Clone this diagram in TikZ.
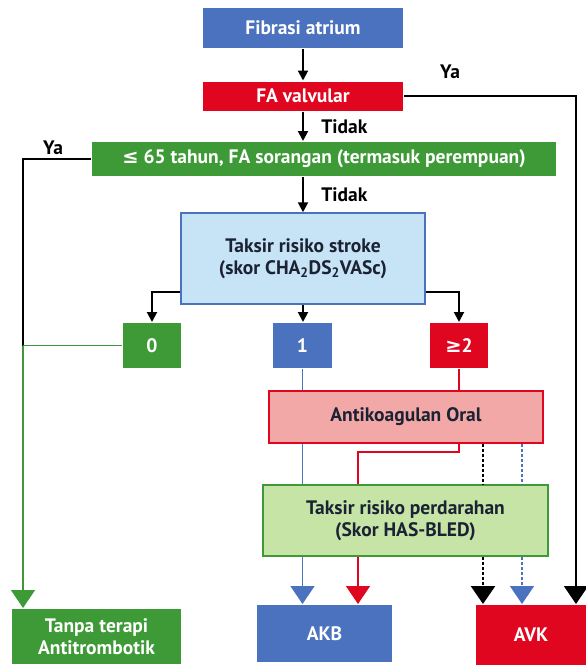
\documentclass[tikz,border=0pt]{standalone}
\usepackage{fontspec}
\setmainfont{PT Sans}
\newfontfamily\symfont{DejaVu Sans}
\usetikzlibrary{arrows.meta}

\definecolor{fablue}{HTML}{4A72BF}
\definecolor{fared}{HTML}{E1061F}
\definecolor{fagreen}{HTML}{3D9A36}
\definecolor{lightblue}{HTML}{C7E3F6}
\definecolor{lightred}{HTML}{F3A8A8}
\definecolor{lightgreen}{HTML}{C6E4A6}
\definecolor{darktext}{HTML}{1B2233}

\begin{document}
\begin{tikzpicture}[x=1pt, y=-1pt, line width=2pt,
  font=\fontsize{19.5}{22}\selectfont\bfseries,
  fullbox/.style={fill=#1, text=white, inner sep=0pt, align=center},
  palebox/.style={fill=light#1, draw=fa#1, line width=1.5pt, text=darktext, inner sep=0pt, align=center},
  smallarr/.style={-{Triangle[width=10pt,length=10pt]}},
  bigarr/.style={-{Triangle[width=24pt,length=18pt]}},
  answer/.style={text=black}]

\useasboundingbox (0,0) rectangle (586,665);

%%%%%%%%%%%% Pertanyaan awal
\node[fullbox=fablue, minimum width=200pt, minimum height=40pt] (fib) at (303,28) {Fibrasi atrium};
\node[fullbox=fared, minimum width=200pt, minimum height=29pt] (val) at (303,96) {FA valvular};
\node[fullbox=fagreen, minimum width=464pt, minimum height=34pt] (age) at (324,159)
  {{\symfont ≤} 65 tahun, FA sorangan (termasuk perempuan)};
\node[answer] (ya1) at (450,72) {Ya};
\node[answer] (ya2) at (53,148) {Ya};

%%%%%%%%%%%% Skor stroke
\node[palebox=blue, minimum width=244pt, minimum height=91pt] (ts) at (303,258.5)
  {Taksir risiko stroke\\(skor CHA\textsubscript{2}DS\textsubscript{2}VASc)};
\node[fullbox=fagreen, minimum width=58pt, minimum height=45pt] (b0) at (152,345.5) {0};
\node[fullbox=fablue, minimum width=59pt, minimum height=45pt] (b1) at (302.5,345.5) {1};
\node[fullbox=fared, minimum width=58pt, minimum height=45pt] (b2) at (459,345.5) {{\symfont ≥}2};

%%%%%%%%%%%% Terapi
\node[palebox=red, minimum width=274pt, minimum height=52pt] (ako) at (406,417) {Antikoagulan Oral};
\node[palebox=green, minimum width=285pt, minimum height=71pt] (hb) at (405.5,520.5)
  {Taksir risiko perdarahan\\(Skor HAS-BLED)};
\node[fullbox=fagreen, minimum width=169pt, minimum height=55pt] (tanpa) at (96.5,636.5)
  {Tanpa terapi\\Antitrombotik};
\node[fullbox=fablue, minimum width=135pt, minimum height=57pt] (akb) at (324.5,633.5) {AKB};
\node[fullbox=fared, minimum width=110pt, minimum height=60pt] (avk) at (531,635) {AVK};

\coordinate (jn) at (23,345.5);
\coordinate (rk) at (358,470);
\coordinate (dk) at (483,470);
\coordinate (bk) at (522,470);

%%%%%%%%%%%% Panah hitam
\draw[smallarr] (fib.south) -- (val.north);
\draw[smallarr] (val.south) -- node[answer, right=14pt] {Tidak} (val.south |- age.north);
\draw[smallarr] (ts.north |- age.south) -- node[answer, right=14pt] {Tidak} (ts.north);
\draw[bigarr] (val.east) -| ([xshift=-11pt]avk.north east);
\draw (age.west) -| (jn);
\draw[smallarr] ([yshift=13pt]ts.south west) -| (b0.north);
\draw[smallarr] (ts.south) -- (ts.south |- b1.north);
\draw[smallarr] ([yshift=13pt]ts.south east) -| (b2.north);

%%%%%%%%%%%% Jalur skor 0
\draw[fagreen, line width=1.5pt] (b0.west) -- (jn);
\draw[fagreen, line width=1.5pt, bigarr] (jn) -- (jn |- tanpa.north);

%%%%%%%%%%%% Jalur skor 1 dan >=2
\draw[fablue, line width=1.5pt] (b1.south) -- (b1.south |- ako.north);
\draw[fablue, line width=1.5pt] (b1.south |- ako.south) -- (b1.south |- hb.north);
\draw[fablue, line width=1.5pt, bigarr] (b1.south |- hb.south) -- (b1.south |- akb.north);
\draw[fared, line width=1.5pt] (b2.south) -- (b2.south |- ako.north);
\draw[fared, line width=1.5pt] (b2.south |- ako.south) -- ++(0,8) -| (rk |- hb.north);
\draw[fared, line width=1.5pt, bigarr] (rk |- hb.south) -- (rk |- akb.north);
\draw[dashed, dash pattern=on 3pt off 2pt, line width=2.5pt] (dk |- ako.south) -- (dk |- hb.north);
\draw[dashed, dash pattern=on 3pt off 2pt, line width=2.5pt, bigarr] (dk |- hb.south) -- (dk |- avk.north);
\draw[fablue, dash pattern=on 3pt off 2pt, line width=1.5pt] (bk |- ako.south) -- (bk |- hb.north);
\draw[fablue, dash pattern=on 3pt off 2pt, line width=1.5pt, bigarr] (bk |- hb.south) -- (bk |- avk.north);
\end{tikzpicture}
\end{document}
